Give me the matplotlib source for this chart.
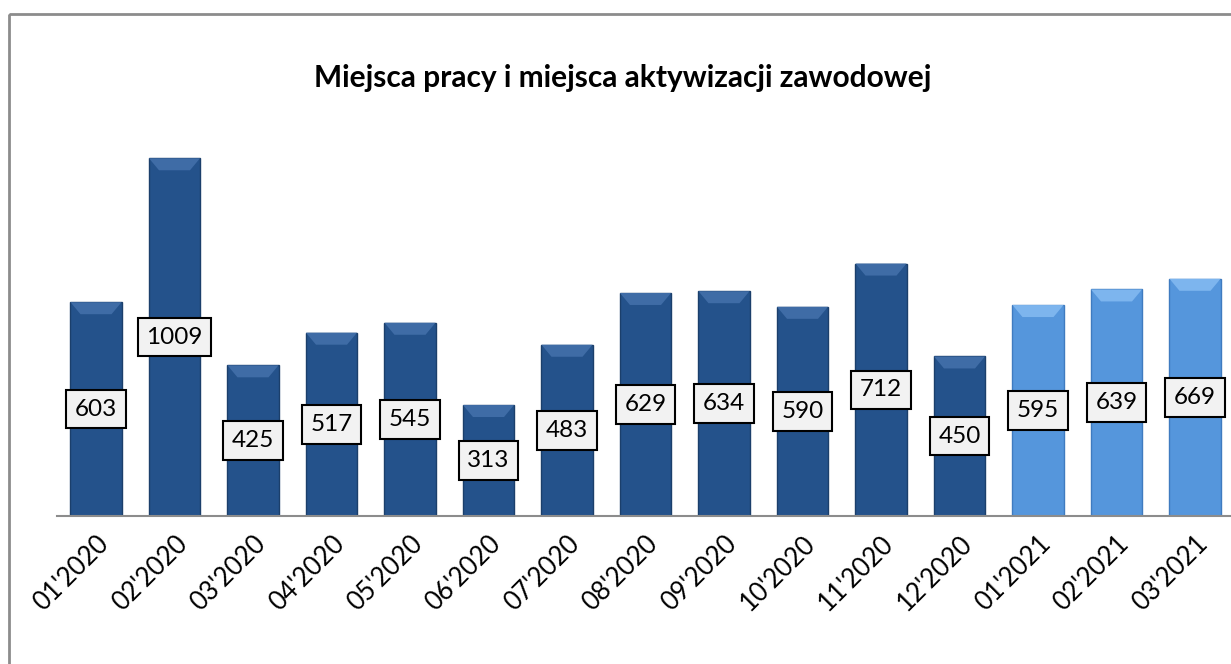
import matplotlib
matplotlib.use("Agg")
import matplotlib.pyplot as plt
from matplotlib.patches import Rectangle, Polygon
import numpy as np

months = ["01'2020", "02'2020", "03'2020", "04'2020", "05'2020", "06'2020", "07'2020",
          "08'2020", "09'2020", "10'2020", "11'2020", "12'2020", "01'2021", "02'2021", "03'2021"]
values = [603, 1009, 425, 517, 545, 313, 483, 629, 634, 590, 712, 450, 595, 639, 669]
years = [2020] * 12 + [2021] * 3

title = "Miejsca pracy i miejsca aktywizacji zawodowej"

plt.rcParams['font.family'] = ['Lato', 'DejaVu Sans']

W, H = 1231, 664
fig = plt.figure(figsize=(W / 100, H / 100), dpi=100)

# outer chart border
fig.patches.append(Rectangle((9 / W, 1 - 14 / H), 1.2, -1.2, transform=fig.transFigure,
                             fill=False, edgecolor='#8c8c8c', linewidth=2, figure=fig))

ax = fig.add_axes([56.75 / W, (H - 516) / H, 1177.5 / W, (516 - 126) / H])
ax.set_xlim(-0.5, len(values) - 0.5)
ax.set_ylim(0, 1100)

x = np.arange(len(values))
width = 0.65
dark = '#24528b'
light = '#5596dc'
colors = [dark if y == 2020 else light for y in years]
edges = ['#1b3f6b' if y == 2020 else '#3f7bc0' for y in years]
bev_cols = ['#3f6ca6' if y == 2020 else '#7db5ee' for y in years]

bars = ax.bar(x, values, width=width, color=colors, edgecolor=edges, linewidth=1.0, zorder=2)

px_per_unit_y = (516 - 126) / 1100.0
px_per_unit_x = 1177.5 / len(values)
bev_h = 12 / px_per_unit_y
bev_w = 10 / px_per_unit_x
for b, bc in zip(bars, bev_cols):
    x0, x1 = b.get_x(), b.get_x() + b.get_width()
    top = b.get_height()
    poly = Polygon([(x0, top), (x1, top), (x1 - bev_w, top - bev_h), (x0 + bev_w, top - bev_h)],
                   closed=True, facecolor=bc, edgecolor='none', zorder=3)
    ax.add_patch(poly)

for xi, v in zip(x, values):
    ax.text(xi, v / 2, str(v), ha='center', va='center', fontsize=17.5, color='black', zorder=5,
            bbox=dict(boxstyle='square,pad=0.36', facecolor='#f2f2f2', edgecolor='black', linewidth=1.5))

for s in ['top', 'right', 'left']:
    ax.spines[s].set_visible(False)
ax.spines['bottom'].set_color('#8c8c8c')
ax.spines['bottom'].set_linewidth(1.5)
ax.set_yticks([])
ax.set_xticks(x)
ax.set_xticklabels(months, rotation=45, ha='right', rotation_mode='anchor', fontsize=18.5)
ax.tick_params(axis='x', length=0, pad=11)

fig.text(622.5 / W, 1 - 78 / H, title, ha='center', va='center', fontsize=21.5, fontweight='bold')

fig.savefig('out.png', dpi=100)
